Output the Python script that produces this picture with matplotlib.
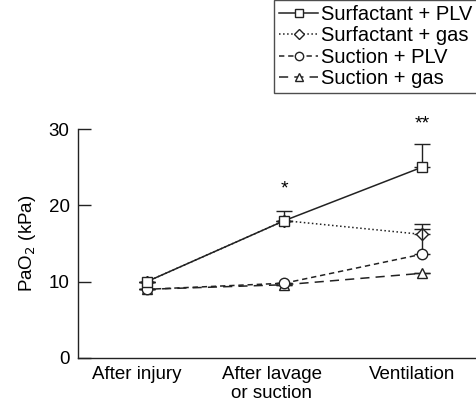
import numpy as np
import matplotlib
matplotlib.use('Agg')
import matplotlib.pyplot as plt

plt.rcParams['font.family'] = ['Liberation Sans', 'DejaVu Sans']
plt.rcParams['font.size'] = 13.5

stages = ['After injury', 'After lavage\nor suction', 'Ventilation']
stage_x = [0, 1, 2]
label_x = [-0.07, 0.91, 1.93]

surf_plv = [10.0, 18.0, 25.0]
surf_plv_err = [0.0, 1.3, 3.1]
surf_gas = [10.0, 18.0, 16.2]
surf_gas_err = [0.0, 0.0, 1.4]
suct_plv = [9.0, 9.8, 13.6]
suct_plv_err = [0.0, 0.0, 3.3]
suct_gas = [9.0, 9.6, 11.1]
suct_gas_err = [0.0, 0.0, 0.0]

stars = ['', '*', '**']
star_y = [None, 22.2, 30.7]

fig = plt.figure(figsize=(4.77, 4.03), dpi=100)
ax = fig.add_axes([0.1635, 0.1117, 0.8365, 0.568])

ink = '#222222'
mk = dict(markerfacecolor='white', markeredgecolor=ink, markeredgewidth=1.0,
          color=ink, linewidth=1.1)

def series(vals, err, marker, ls, label, ms, z):
    yerr = np.array([np.zeros(len(err)), err])
    ax.errorbar(stage_x, vals, yerr=yerr, fmt='none', ecolor=ink,
                elinewidth=1.0, capsize=6, capthick=1.0, zorder=z - 0.5)
    line, = ax.plot(stage_x, vals, marker=marker, linestyle=ls, markersize=ms,
                    label=label, zorder=z, **mk)
    return line

l4 = series(suct_gas, suct_gas_err, '^', (0, (6, 4)), 'Suction + gas', 7.5, 2)
l2 = series(surf_gas, surf_gas_err, 'D', ':', 'Surfactant + gas', 6.5, 3)
l3 = series(suct_plv, suct_plv_err, 'o', (0, (3.5, 2.5)), 'Suction + PLV', 7.5, 4)
l1 = series(surf_plv, surf_plv_err, 's', '-', 'Surfactant + PLV', 7.5, 5)

for x, s, y in zip(stage_x, stars, star_y):
    if s:
        ax.text(x, y, s, ha='center', va='center', fontsize=14, clip_on=False)

ax.set_xlim(-0.50, 2.40)
ax.set_ylim(0, 30)
ax.set_yticks([0, 10, 20, 30])
ax.set_xticks(label_x)
ax.set_xticklabels(stages, linespacing=1.15)
ax.tick_params(axis='x', length=0, pad=6)
ax.tick_params(axis='y', direction='in', length=9, width=1.0, color=ink, pad=6)
ax.set_ylabel('PaO$_2$ (kPa)', labelpad=8)
for side in ['top', 'right']:
    ax.spines[side].set_visible(False)
for side in ['left', 'bottom']:
    ax.spines[side].set_color(ink)
    ax.spines[side].set_linewidth(1.0)

leg = fig.legend(handles=[l1, l2, l3, l4], loc='upper right',
                 bbox_to_anchor=(1.0, 1.0), borderaxespad=0.0,
                 frameon=True, fancybox=False, edgecolor=ink,
                 handlelength=1.9, handletextpad=0.15, labelspacing=0.12,
                 borderpad=0.25, fontsize=14.5, markerscale=0.8)
leg.get_frame().set_linewidth(1.0)

fig.savefig('out.png', dpi=100)
